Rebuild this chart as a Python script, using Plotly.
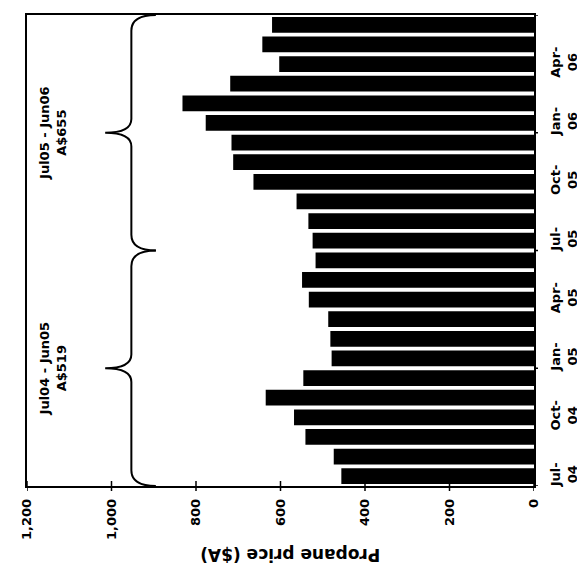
import plotly.graph_objects as go

# ---------------- data ----------------
months = ["Jul-04", "Aug-04", "Sep-04", "Oct-04", "Nov-04", "Dec-04",
          "Jan-05", "Feb-05", "Mar-05", "Apr-05", "May-05", "Jun-05",
          "Jul-05", "Aug-05", "Sep-05", "Oct-05", "Nov-05", "Dec-05",
          "Jan-06", "Feb-06", "Mar-06", "Apr-06", "May-06", "Jun-06"]
prices = [456, 474, 541, 568, 635, 546, 479, 482, 487, 533, 549, 517,
          524, 534, 562, 664, 712, 716, 777, 832, 719, 603, 643, 620]

label_months = ["Jul-04", "Oct-04", "Jan-05", "Apr-05",
                "Jul-05", "Oct-05", "Jan-06", "Apr-06"]
value_ticks = [0, 200, 400, 600, 800, 1000, 1200]

period_names = ["Jul04 - Jun05", "Jul05 - Jun06"]
period_avgs = [519, 655]
period_first = ["Jul-04", "Jul-05"]
period_last = ["Jun-05", "Jun-06"]

axis_title = "Propane price ($A)"

# ---------------- styling ----------------
FONT = "DejaVu Sans"
BLACK = "#000000"
BRACE_BODY = 953
BRACE_TIP = 1015
BRACE_END = 895
BRACE_R_END = 0.8
BRACE_R_TIP = 0.7
TEXT_LEVEL = 1138

pos = {m: i for i, m in enumerate(months)}
n = len(months)

fig = go.Figure()
fig.add_trace(go.Bar(
    x=prices,
    y=[pos[m] for m in months],
    orientation="h",
    marker=dict(color=BLACK, line=dict(width=0)),
    hoverinfo="skip",
))


def split_label(m):
    a, b = m.split("-")
    return a + "-<br>" + b


shapes = []
# value-axis tick marks (crossing the axis line)
for v in value_ticks:
    shapes.append(dict(type="line", xref="x", yref="paper",
                       ysizemode="pixel", yanchor=0,
                       x0=v, x1=v, y0=-5, y1=5,
                       line=dict(color=BLACK, width=1.5)))
# category-axis tick marks at boundaries every 6 months
for k in range(0, n + 1, 6):
    b = k - 0.5
    shapes.append(dict(type="line", xref="paper", yref="y",
                       xsizemode="pixel", xanchor=1,
                       x0=0, x1=4, y0=b, y1=b,
                       line=dict(color=BLACK, width=1.5)))

# braces over each period
annotations = []
for name, avg, f, l in zip(period_names, period_avgs, period_first, period_last):
    lo = pos[f] - 0.5
    hi = pos[l] + 0.5
    mid = (lo + hi) / 2
    path = (f"M {BRACE_END},{lo} Q {BRACE_BODY},{lo} {BRACE_BODY},{lo + BRACE_R_END} "
            f"L {BRACE_BODY},{mid - BRACE_R_TIP} "
            f"Q {BRACE_BODY},{mid} {BRACE_TIP},{mid} "
            f"Q {BRACE_BODY},{mid} {BRACE_BODY},{mid + BRACE_R_TIP} "
            f"L {BRACE_BODY},{hi - BRACE_R_END} "
            f"Q {BRACE_BODY},{hi} {BRACE_END},{hi}")
    shapes.append(dict(type="path", xref="x", yref="y", path=path,
                       line=dict(color=BLACK, width=2)))
    annotations.append(dict(
        x=TEXT_LEVEL, y=mid, xref="x", yref="y",
        text=f"{name}<br>A${avg}", textangle=-90, showarrow=False,
        font=dict(family=FONT, size=13, color=BLACK, weight="bold"),
        xanchor="center", yanchor="middle", align="center"))

annotations.append(dict(
    x=0.52, y=-0.148, xref="paper", yref="paper",
    text=axis_title, textangle=180, showarrow=False,
    font=dict(family=FONT, size=17, color=BLACK, weight="bold"),
    xanchor="center", yanchor="middle"))

fig.update_layout(
    width=585, height=580,
    margin=dict(l=19, r=59, t=5, b=102),
    paper_bgcolor="white", plot_bgcolor="white",
    showlegend=False,
    bargap=0.2,
    font=dict(family=FONT, size=12, color=BLACK, weight="bold"),
    shapes=shapes,
    annotations=annotations,
    xaxis=dict(
        range=[1200, 0],
        tickvals=value_ticks,
        tickformat=",d",
        tickangle=-90,
        ticks="",
        ticklabelstandoff=6,
        showgrid=False, zeroline=False,
        showline=True, linecolor=BLACK, linewidth=1.5, mirror=True,
        tickfont=dict(family=FONT, size=13, color=BLACK, weight="bold"),
    ),
    yaxis=dict(
        range=[-0.5, n - 0.5],
        side="right",
        tickvals=[pos[m] for m in label_months],
        ticktext=[split_label(m) for m in label_months],
        tickangle=-90,
        ticks="",
        ticklabelstandoff=9,
        showgrid=False, zeroline=False,
        showline=True, linecolor=BLACK, linewidth=1.5, mirror=True,
        tickfont=dict(family=FONT, size=13, color=BLACK, weight="bold"),
    ),
)

fig.write_html("out.html")
